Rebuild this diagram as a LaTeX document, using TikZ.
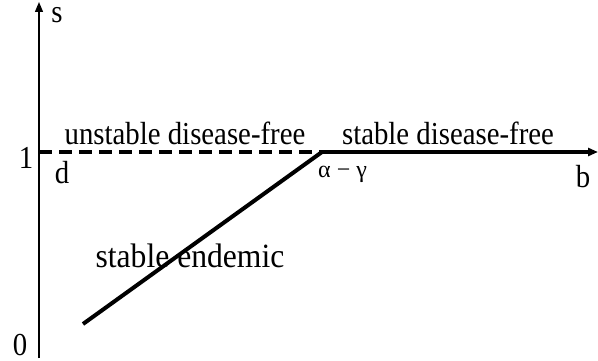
\documentclass[tikz,border=0pt]{standalone}
\usepackage{fontspec}
\setmainfont{Liberation Serif}
\newfontfamily\narrowserif[FakeStretch=0.9]{Liberation Serif}
\newfontfamily\midserif[FakeStretch=0.93]{Liberation Serif}
\usetikzlibrary{arrows.meta}
\begin{document}
\begin{tikzpicture}[x=1pt,y=-1pt,
  lbl/.style={font=\narrowserif\fontsize{32}{34}\selectfont, inner sep=0pt},
  biglbl/.style={font=\midserif\fontsize{34}{36}\selectfont, inner sep=0pt},
  small/.style={font=\fontsize{24}{26}\selectfont, inner sep=0pt},
  tip/.style={-{Triangle[length=10pt,width=8pt]}}]
\useasboundingbox (0,0) rectangle (598,361);
\coordinate (O) at (39,358);
\coordinate (Stop) at (39,2);
\coordinate (D) at (39,152);
\coordinate (K) at (322,152);
\coordinate (Bend) at (598,152);
\coordinate (E) at (83,324);
\draw[line width=1.4pt, tip] (O) -- (Stop);
\draw[line width=3.6pt, dash pattern=on 13pt off 7pt] (D) -- (K);
\draw[line width=3.6pt, tip] (K) -- (Bend);
\draw[line width=4pt] (E) -- (K);
\node[lbl, anchor=base, text height=15pt, text depth=0pt] (s) at (57,23) {s};
\node[lbl, anchor=base] (one) at (26,168) {1};
\node[lbl, anchor=base] (zero) at (20,355) {0};
\node[lbl, anchor=base] (d) at (62,183) {d};
\node[lbl, anchor=base] (b) at (583,187) {b};
\node[small, anchor=base west] (ag) at (318,177) {α − γ};
\node[lbl, anchor=base] (u) at (185,145) {unstable disease-free};
\node[lbl, anchor=base] (sdf) at (448,145) {stable disease-free};
\node[biglbl, anchor=base] (se) at (190,267) {stable endemic};
\end{tikzpicture}
\end{document}
